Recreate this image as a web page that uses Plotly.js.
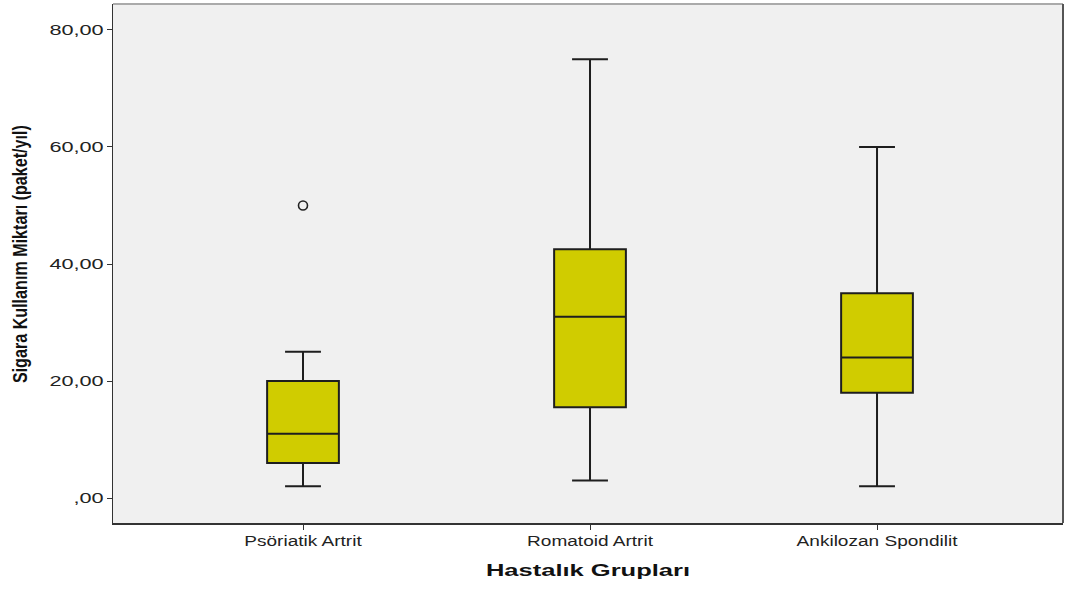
<!DOCTYPE html>
<html>
<head>
<meta charset="utf-8">
<script src="https://cdn.plot.ly/plotly-3.0.1.min.js"></script>
<style>html,body{margin:0;padding:0;background:#fff;}#chart{width:1066px;height:590px;}</style>
</head>
<body>
<div id="chart"></div>
<script>
const categories = ["Psöriatik Artrit", "Romatoid Artrit", "Ankilozan Spondilit"];
const lowerWhisker = [2, 3, 2];
const q1Values = [6, 15.5, 18];
const medianValues = [11, 31, 24];
const q3Values = [20, 42.5, 35];
const upperWhisker = [25, 75, 60];
const outlierCategory = ["Psöriatik Artrit"];
const outlierValues = [50];
const yTickVals = [0, 20, 40, 60, 80];
const yTickText = [",00", "20,00", "40,00", "60,00", "80,00"];
const xTitle = "Hastalık Grupları";
const yTitle = "Sigara Kullanım Miktarı (paket/yıl)";

const FONT = "Liberation Sans, Arial, sans-serif";

const traces = [
  {
    type: "box",
    x: categories,
    q1: q1Values,
    median: medianValues,
    q3: q3Values,
    lowerfence: lowerWhisker,
    upperfence: upperWhisker,
    fillcolor: "#D0CC00",
    line: {color: "#1e1e1e", width: 2},
    whiskerwidth: 0.5,
    width: 0.25,
    boxpoints: false,
    hoverinfo: "skip",
    showlegend: false
  },
  {
    type: "scatter",
    mode: "markers",
    x: outlierCategory,
    y: outlierValues,
    marker: {symbol: "circle-open", size: 9, color: "#222222", line: {width: 1.6}},
    showlegend: false,
    hoverinfo: "skip"
  }
];

const layout = {
  width: 1066,
  height: 590,
  margin: {l: 113, r: 3, t: 4, b: 67},
  paper_bgcolor: "#ffffff",
  plot_bgcolor: "#F0F0F0",
  showlegend: false,
  xaxis: {
    type: "category",
    range: [-0.662, 2.648],
    showgrid: false,
    zeroline: false,
    showline: true,
    linecolor: "#333333",
    linewidth: 1.5,
    ticks: "outside",
    ticklen: 5,
    tickcolor: "#333333",
    tickfont: {family: FONT, size: 14, color: "#222"},
    title: {text: xTitle, font: {family: FONT, size: 17, color: "#111", weight: "bold"}, standoff: 16}
  },
  yaxis: {
    range: [-4.27, 84.44],
    tickvals: yTickVals,
    ticktext: yTickText,
    showgrid: false,
    zeroline: false,
    showline: true,
    linecolor: "#333333",
    linewidth: 1.5,
    ticks: "outside",
    ticklen: 5,
    tickcolor: "#333333",
    tickfont: {family: FONT, size: 14, color: "#222"}
  },
  annotations: [
    {
      text: yTitle,
      xref: "paper", yref: "paper",
      x: -0.0979, y: 0.518,
      xanchor: "center", yanchor: "middle",
      textangle: -90,
      showarrow: false,
      font: {family: FONT, size: 20, color: "#111", weight: "bold"}
    }
  ],
  shapes: [
    {type: "line", xref: "paper", yref: "paper", x0: 0, x1: 1, y0: 1, y1: 1, line: {color: "#AAAAAA", width: 2}},
    {type: "line", xref: "paper", yref: "paper", x0: 1, x1: 1, y0: 0, y1: 1, line: {color: "#555555", width: 2}}
  ]
};

Plotly.newPlot("chart", traces, layout, {displayModeBar: false, staticPlot: true}).then(function (gd) {
  function stretch(sel, f) {
    gd.querySelectorAll(sel).forEach(function (t) {
      var L = t.getComputedTextLength();
      if (L > 0) {
        t.setAttribute("textLength", (L * f).toFixed(1));
        t.setAttribute("lengthAdjust", "spacingAndGlyphs");
      }
    });
  }
  stretch(".xtick text", 1.36);
  stretch(".ytick text", 1.55);
  stretch(".g-xtitle text", 1.5);
  gd.querySelectorAll(".annotation-text").forEach(function (t) {
    t.setAttribute("textLength", "258");
    t.setAttribute("lengthAdjust", "spacingAndGlyphs");
  });
});
</script>
</body>
</html>
